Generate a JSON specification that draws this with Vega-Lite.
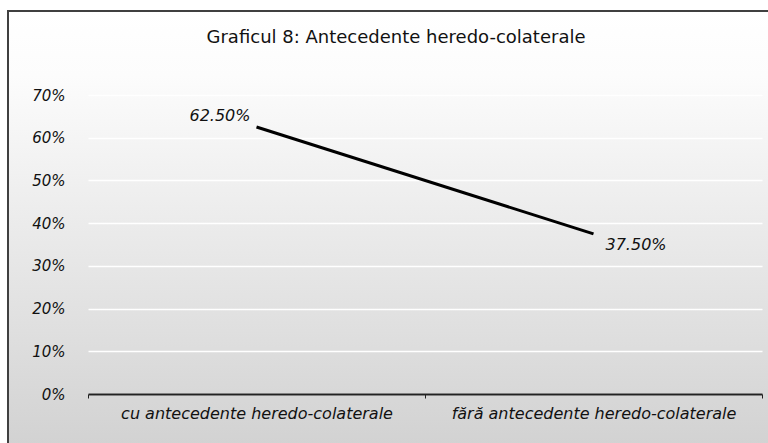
{
  "$schema": "https://vega.github.io/schema/vega-lite/v6.json",
  "width": 762,
  "height": 434,
  "autosize": {"type": "none"},
  "padding": {"left": 8, "top": 11, "right": 0, "bottom": 0},
  "background": "white",
  "title": {
    "text": "Graficul 8: Antecedente heredo-colaterale",
    "font": "DejaVu Sans",
    "fontSize": 18,
    "fontWeight": "normal",
    "color": "#111111",
    "anchor": "middle",
    "frame": "group",
    "offset": -50,
    "baseline": "alphabetic",
    "dx": 7
  },
  "config": {
    "view": {
      "fill": {
        "gradient": "linear",
        "x1": 0, "y1": 0, "x2": 0, "y2": 1,
        "stops": [
          {"offset": 0, "color": "#ffffff"},
          {"offset": 0.15, "color": "#fcfcfc"},
          {"offset": 1, "color": "#d2d2d2"}
        ]
      },
      "stroke": "#404040",
      "strokeWidth": 2
    }
  },
  "data": {
    "values": [
      {"categorie": "cu antecedente heredo-colaterale", "procent": 0.625, "eticheta": "62.50%"},
      {"categorie": "fără antecedente heredo-colaterale", "procent": 0.375, "eticheta": "37.50%"}
    ]
  },
  "encoding": {
    "x": {
      "field": "categorie",
      "type": "nominal",
      "sort": null,
      "bandPosition": 0.5,
      "scale": {"type": "band", "range": [80, 754], "paddingInner": 0, "paddingOuter": 0},
      "axis": {
        "orient": "bottom",
        "offset": -51,
        "title": null,
        "labelAngle": 0,
        "labelLimit": 0,
        "domainColor": "#222222",
        "domainWidth": 2,
        "tickColor": "#222222",
        "tickSize": 4,
        "tickBand": "extent",
        "labelPadding": 7,
        "labelFont": "DejaVu Sans",
        "labelFontStyle": "italic",
        "labelFontSize": 16,
        "labelColor": "#111111",
        "grid": false
      }
    },
    "y": {
      "field": "procent",
      "type": "quantitative",
      "scale": {"domain": [0, 0.7], "range": [383, 84], "nice": false},
      "axis": {
        "orient": "left",
        "offset": -80,
        "values": [0, 0.1, 0.2, 0.3, 0.4, 0.5, 0.6, 0.7],
        "format": ".0%",
        "domain": false,
        "ticks": false,
        "tickSize": 0,
        "labelPadding": 23,
        "labelFont": "DejaVu Sans",
        "labelFontStyle": "italic",
        "labelFontSize": 15,
        "labelColor": "#111111",
        "grid": true,
        "gridColor": "#ffffff",
        "gridWidth": 1.5,
        "title": null
      }
    }
  },
  "layer": [
    {
      "mark": {"type": "line", "color": "#000000", "strokeWidth": 3}
    },
    {
      "transform": [{"filter": "datum.procent > 0.5"}],
      "mark": {"type": "text", "align": "right", "baseline": "bottom", "dx": -6, "dy": -3, "font": "DejaVu Sans", "fontStyle": "italic", "fontSize": 16, "color": "#111111"},
      "encoding": {"text": {"field": "eticheta"}}
    },
    {
      "transform": [{"filter": "datum.procent < 0.5"}],
      "mark": {"type": "text", "align": "left", "baseline": "top", "dx": 12, "dy": 3, "font": "DejaVu Sans", "fontStyle": "italic", "fontSize": 16, "color": "#111111"},
      "encoding": {"text": {"field": "eticheta"}}
    }
  ]
}
